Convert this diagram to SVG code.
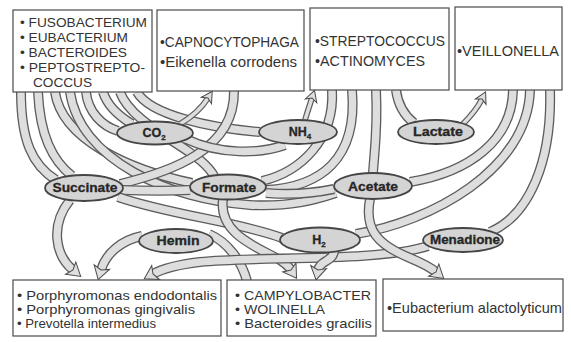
<svg xmlns="http://www.w3.org/2000/svg" xmlns:xlink="http://www.w3.org/1999/xlink" width="571" height="342" viewBox="0 0 571 342">
<style>
.o{fill:none;stroke:#5c5c5c;stroke-width:10}
.i{fill:none;stroke:#dedede;stroke-width:7.4}
.to{fill:none;stroke:#5c5c5c;stroke-width:6}
.ti{fill:none;stroke:#dedede;stroke-width:3.6}
.a{marker-end:url(#ah)}
.as{marker-end:url(#ahs)}
.box{fill:#fff;stroke:#4a4a4a;stroke-width:1.2}
.ell{fill:#d4d4d4;stroke:#454545;stroke-width:1.8}
.bt{font-family:"Liberation Sans",Arial,sans-serif;font-size:15px;fill:#333}
.bb{font-size:13px}
.ba{font-size:13.5px}
.et{font-family:"Liberation Sans",Arial,sans-serif;font-size:12.5px;font-weight:bold;fill:#262626;stroke:#262626;stroke-width:0.3;text-anchor:middle}
</style>
<defs>
<marker id="ah" markerUnits="userSpaceOnUse" viewBox="-6 -12 20 24" markerWidth="20" markerHeight="24" refX="0" refY="0" orient="auto">
<path d="M10,0 L-3,-8 L0,0 L-3,8 Z" fill="#dedede" stroke="#4a4a4a" stroke-width="1"/>
</marker>
<marker id="ahs" markerUnits="userSpaceOnUse" viewBox="-6 -12 20 24" markerWidth="20" markerHeight="24" refX="0" refY="0" orient="auto">
<path d="M8,0 L-3,-6 L0,0 L-3,6 Z" fill="#dedede" stroke="#4a4a4a" stroke-width="1"/>
</marker>
<path id="r1" d="M21,92 C21,140 32,165 56,180"/>
<path id="r2" d="M38,92 C40,135 52,160 72,176"/>
<path id="r3" d="M55,92 C62,140 130,170 192,183"/>
<path id="r4" d="M70,92 C80,160 170,200 250,205 C290,207 315,200 336,193"/>
<path id="r5" d="M86,92 C88,112 102,126 118,131"/>
<path id="r6" d="M103,92 C108,108 122,118 132,124"/>
<path id="r7" d="M120,92 C130,120 175,140 200,160 C208,167 212,172 214,176"/>
<path id="r8" d="M137,92 C150,115 210,128 260,132"/>
<path id="r9" d="M234,91 C235,150 170,172 120,184"/>
<path id="r10" d="M122,190 C150,191 170,191 190,190"/>
<path id="r11" d="M118,197 C170,215 240,222 282,238"/>
<path id="r12" d="M70,200 C50,225 55,255 73,270"/>
<path id="r13" d="M180,124 C195,115 203,106 208,98"/>
<path id="r14" d="M186,139 C220,155 260,154 285,145"/>
<path id="r15" d="M305,120 C308,110 310,104 312,98"/>
<path id="r16" d="M332,90 C335,140 300,172 262,181"/>
<path id="r17" d="M352,90 C358,160 320,187 266,190"/>
<path id="r18" d="M266,193 C290,195 315,193 334,189"/>
<path id="r19" d="M376,90 C378,130 374,155 373,173"/>
<path id="r20" d="M396,90 C398,105 405,116 414,123"/>
<path id="r21" d="M462,125 C472,115 478,107 482,99"/>
<path id="r22" d="M513,90 C512,140 470,172 410,182"/>
<path id="r23" d="M530,90 C528,170 430,222 356,234"/>
<path id="r24" d="M550,90 C552,160 530,215 490,232"/>
<path id="r25" d="M223,199 C218,235 260,248 280,260 C286,264 289,267 291,270"/>
<path id="r26" d="M142,236 C122,240 106,253 101,270"/>
<path id="r27" d="M209,234 C228,242 242,262 247,281"/>
<path id="r28" d="M428,246 C380,262 260,256 200,262 C175,265 162,269 153,274"/>
<path id="r29" d="M334,251 C333,262 320,260 318,270"/>
<path id="r30" d="M370,199 C364,230 378,245 410,258 C422,263 430,267 436,272"/>
</defs>
<rect width="571" height="342" fill="#fff"/>
<g id="connectors">
<use xlink:href="#r1" class="o"/><use xlink:href="#r1" class="i"/>
<use xlink:href="#r2" class="o"/><use xlink:href="#r2" class="i"/>
<use xlink:href="#r3" class="o"/><use xlink:href="#r3" class="i"/>
<use xlink:href="#r4" class="o"/><use xlink:href="#r4" class="i"/>
<use xlink:href="#r5" class="o"/><use xlink:href="#r5" class="i"/>
<use xlink:href="#r6" class="o"/><use xlink:href="#r6" class="i"/>
<use xlink:href="#r7" class="o"/><use xlink:href="#r7" class="i"/>
<use xlink:href="#r8" class="o"/><use xlink:href="#r8" class="i"/>
<use xlink:href="#r9" class="o"/><use xlink:href="#r9" class="i"/>
<use xlink:href="#r10" class="o"/><use xlink:href="#r10" class="i"/>
<use xlink:href="#r11" class="o"/><use xlink:href="#r11" class="i"/>
<use xlink:href="#r12" class="o"/><use xlink:href="#r12" class="i a"/>
<use xlink:href="#r13" class="to"/><use xlink:href="#r13" class="ti as"/>
<use xlink:href="#r14" class="o"/><use xlink:href="#r14" class="i"/>
<use xlink:href="#r15" class="to"/><use xlink:href="#r15" class="ti as"/>
<use xlink:href="#r16" class="o"/><use xlink:href="#r16" class="i"/>
<use xlink:href="#r17" class="o"/><use xlink:href="#r17" class="i"/>
<use xlink:href="#r18" class="o"/><use xlink:href="#r18" class="i"/>
<use xlink:href="#r19" class="o"/><use xlink:href="#r19" class="i"/>
<use xlink:href="#r20" class="o"/><use xlink:href="#r20" class="i"/>
<use xlink:href="#r21" class="to"/><use xlink:href="#r21" class="ti as"/>
<use xlink:href="#r22" class="o"/><use xlink:href="#r22" class="i"/>
<use xlink:href="#r23" class="o"/><use xlink:href="#r23" class="i"/>
<use xlink:href="#r24" class="o"/><use xlink:href="#r24" class="i"/>
<use xlink:href="#r25" class="o"/><use xlink:href="#r25" class="i a"/>
<use xlink:href="#r26" class="o"/><use xlink:href="#r26" class="i a"/>
<use xlink:href="#r27" class="o"/><use xlink:href="#r27" class="i"/>
<use xlink:href="#r28" class="o"/><use xlink:href="#r28" class="i a"/>
<use xlink:href="#r29" class="o"/><use xlink:href="#r29" class="i a"/>
<use xlink:href="#r30" class="o"/><use xlink:href="#r30" class="i a"/>
</g>
<g id="box-fusobacterium">
<rect class="box" x="13" y="10" width="139" height="82"/>
<text class="bt ba" x="20" y="27" textLength="127" lengthAdjust="spacingAndGlyphs">• FUSOBACTERIUM</text>
<text class="bt ba" x="20" y="42" textLength="108" lengthAdjust="spacingAndGlyphs">• EUBACTERIUM</text>
<text class="bt ba" x="20" y="57" textLength="107" lengthAdjust="spacingAndGlyphs">• BACTEROIDES</text>
<text class="bt ba" x="20" y="72" textLength="125" lengthAdjust="spacingAndGlyphs">• PEPTOSTREPTO-</text>
<text class="bt ba" x="33" y="87" textLength="59" lengthAdjust="spacingAndGlyphs">COCCUS</text>
</g>
<g id="box-capnocytophaga">
<rect class="box" x="157" y="10" width="147" height="81"/>
<text class="bt" x="160" y="47" textLength="139" lengthAdjust="spacingAndGlyphs">•CAPNOCYTOPHAGA</text>
<text class="bt" x="160" y="67" textLength="137" lengthAdjust="spacingAndGlyphs">•Eikenella  corrodens</text>
</g>
<g id="box-streptococcus">
<rect class="box" x="310" y="8" width="139" height="82"/>
<text class="bt" x="315" y="46" textLength="130" lengthAdjust="spacingAndGlyphs">•STREPTOCOCCUS</text>
<text class="bt" x="315" y="66" textLength="110" lengthAdjust="spacingAndGlyphs">•ACTINOMYCES</text>
</g>
<g id="box-veillonella">
<rect class="box" x="455" y="7" width="107" height="83"/>
<text class="bt" x="457" y="56" textLength="102" lengthAdjust="spacingAndGlyphs">•VEILLONELLA</text>
</g>
<g id="box-porphyromonas">
<rect class="box" x="13" y="280" width="208" height="56"/>
<text class="bt bb" x="17" y="300" textLength="200" lengthAdjust="spacingAndGlyphs">• Porphyromonas  endodontalis</text>
<text class="bt bb" x="17" y="314" textLength="178" lengthAdjust="spacingAndGlyphs">• Porphyromonas  gingivalis</text>
<text class="bt bb" x="17" y="328" textLength="139" lengthAdjust="spacingAndGlyphs">• Prevotella  intermedius</text>
</g>
<g id="box-campylobacter">
<rect class="box" x="227" y="280" width="149" height="56"/>
<text class="bt bb" x="235" y="300" textLength="136" lengthAdjust="spacingAndGlyphs">• CAMPYLOBACTER</text>
<text class="bt bb" x="235" y="314" textLength="90" lengthAdjust="spacingAndGlyphs">• WOLINELLA</text>
<text class="bt bb" x="235" y="328" textLength="137" lengthAdjust="spacingAndGlyphs">• Bacteroides  gracilis</text>
</g>
<g id="box-eubacterium">
<rect class="box" x="383" y="279" width="180" height="52"/>
<text class="bt" x="387" y="313" textLength="175" lengthAdjust="spacingAndGlyphs">•Eubacterium  alactolyticum</text>
</g>
<g id="node-co2"><ellipse class="ell" cx="155" cy="133" rx="38" ry="11.5"/><text class="et" x="154" y="137">CO<tspan font-size="8" dy="3">2</tspan></text></g>
<g id="node-nh4"><ellipse class="ell" cx="298" cy="132" rx="39" ry="12"/><text class="et" x="300" y="136">NH<tspan font-size="8" dy="3">4</tspan></text></g>
<g id="node-lactate"><ellipse class="ell" cx="436" cy="132" rx="38" ry="12"/><text class="et" x="438" y="136" textLength="50" lengthAdjust="spacingAndGlyphs">Lactate</text></g>
<g id="node-succinate"><ellipse class="ell" cx="84" cy="188" rx="39" ry="13"/><text class="et" x="85" y="192" textLength="65" lengthAdjust="spacingAndGlyphs">Succinate</text></g>
<g id="node-formate"><ellipse class="ell" cx="228" cy="187" rx="38" ry="12.5"/><text class="et" x="229" y="191.5" textLength="54" lengthAdjust="spacingAndGlyphs">Formate</text></g>
<g id="node-acetate"><ellipse class="ell" cx="373" cy="186" rx="39" ry="13"/><text class="et" x="373" y="190.5" textLength="50" lengthAdjust="spacingAndGlyphs">Acetate</text></g>
<g id="node-hemin"><ellipse class="ell" cx="176" cy="241" rx="37" ry="12"/><text class="et" x="178" y="245" textLength="43" lengthAdjust="spacingAndGlyphs">Hemin</text></g>
<g id="node-h2"><ellipse class="ell" cx="320" cy="240" rx="40" ry="12.5"/><text class="et" x="319" y="244">H<tspan font-size="8" dy="3">2</tspan></text></g>
<g id="node-menadione"><ellipse class="ell" cx="463" cy="240" rx="40" ry="12"/><text class="et" x="465" y="244" textLength="70" lengthAdjust="spacingAndGlyphs">Menadione</text></g>
</svg>
